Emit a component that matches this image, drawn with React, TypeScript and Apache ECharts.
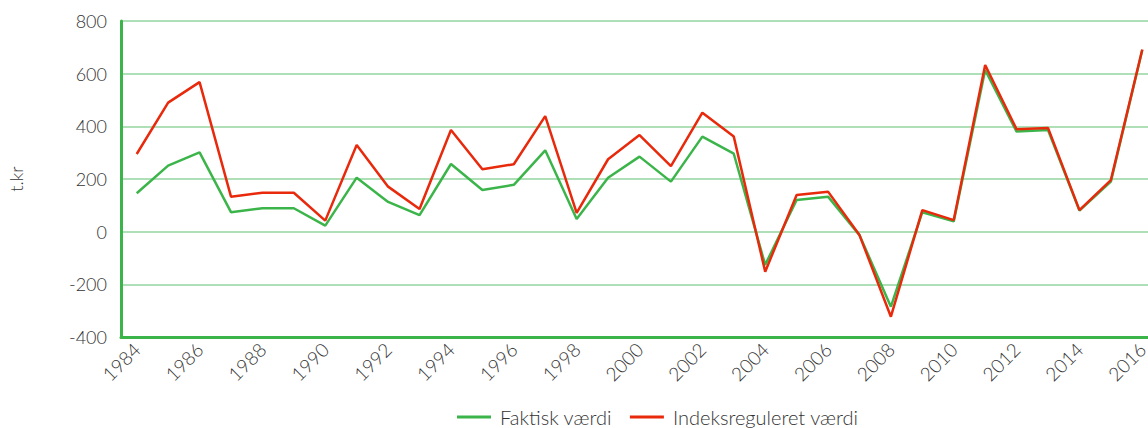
import React, { useEffect, useRef } from "react";
import * as echarts from "echarts";

const years = [
  "1984", "1985", "1986", "1987", "1988", "1989", "1990", "1991", "1992", "1993",
  "1994", "1995", "1996", "1997", "1998", "1999", "2000", "2001", "2002", "2003",
  "2004", "2005", "2006", "2007", "2008", "2009", "2010", "2011", "2012", "2013",
  "2014", "2015", "2016",
];

const faktisk = [
  146, 251, 301, 74, 89, 89, 23, 205, 113, 63,
  257, 158, 178, 309, 48, 205, 285, 190, 361, 296,
  -126, 120, 133, -13, -285, 74, 39, 614, 380, 386,
  80, 190, 690,
];

const indeks = [
  295, 490, 568, 133, 148, 148, 42, 329, 171, 86,
  386, 237, 256, 439, 71, 275, 367, 249, 452, 361,
  -152, 139, 152, -13, -323, 82, 44, 633, 389, 394,
  82, 196, 692,
];

const yTicks = { min: -400, max: 800, interval: 200 };

const GREEN = "#3bb54a";
const RED = "#e8290b";
const TEXT = "#333333";
const FONT = "Lato";

export default function App() {
  const ref = useRef<HTMLDivElement>(null);
  useEffect(() => {
    if (!ref.current) return;
    const chart = echarts.init(ref.current, undefined, { renderer: "svg" });
    chart.setOption({
      animation: false,
      grid: {
        left: 121,
        top: 21,
        bottom: 91,
        width: 1037,
        containLabel: false,
        outerBoundsMode: "none",
      },
      legend: {
        top: 407,
        left: 457,
        padding: 0,
        icon: "rect",
        itemWidth: 34,
        itemHeight: 3,
        itemGap: 18,
        textStyle: {
          fontSize: 20,
          color: TEXT,
          fontFamily: FONT,
          fontWeight: 300,
          padding: [0, 0, 0, 4],
        },
        data: ["Faktisk værdi", "Indeksreguleret værdi"],
      },
      xAxis: {
        type: "category",
        data: years,
        boundaryGap: true,
        axisLine: { show: true, onZero: false, lineStyle: { color: GREEN, width: 3 } },
        axisTick: { show: false },
        axisLabel: {
          interval: 1,
          rotate: 45,
          margin: 9,
          fontSize: 19,
          color: TEXT,
          fontFamily: FONT,
          fontWeight: 300,
        },
        splitLine: { show: false },
      },
      yAxis: {
        type: "value",
        min: yTicks.min,
        max: yTicks.max,
        interval: yTicks.interval,
        name: "t.kr",
        nameLocation: "middle",
        nameGap: 96,
        nameRotate: 90,
        nameTextStyle: { fontSize: 18, color: TEXT, fontFamily: FONT, fontWeight: 300 },
        axisLine: { show: true, lineStyle: { color: GREEN, width: 3 } },
        axisTick: { show: false },
        axisLabel: { margin: 14, fontSize: 18, color: TEXT, fontFamily: FONT, fontWeight: 300 },
        splitLine: { show: true, lineStyle: { color: "#93d49e", width: 1.5 } },
      },
      series: [
        {
          name: "Faktisk værdi",
          type: "line",
          data: faktisk,
          symbol: "none",
          lineStyle: { color: GREEN, width: 2.5 },
          itemStyle: { color: GREEN },
        },
        {
          name: "Indeksreguleret værdi",
          type: "line",
          data: indeks,
          symbol: "none",
          lineStyle: { color: RED, width: 2.5 },
          itemStyle: { color: RED },
        },
      ],
    });
    return () => chart.dispose();
  }, []);
  return <div ref={ref} style={{ width: 1148, height: 428, position: "absolute", left: 0, top: 0 }} />;
}
